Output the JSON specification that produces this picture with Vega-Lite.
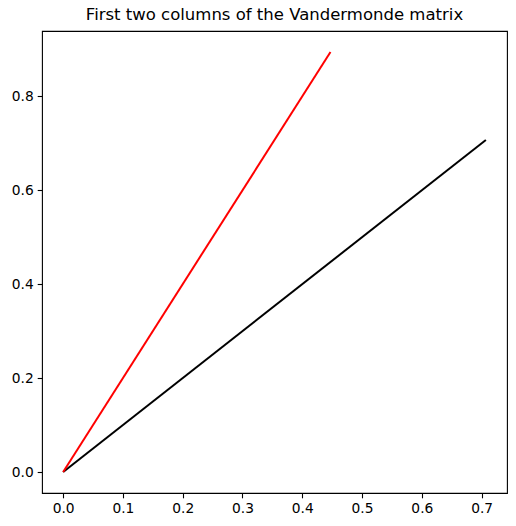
{
  "$schema": "https://vega.github.io/schema/vega-lite/v6.json",
  "autosize": "none",
  "width": 465,
  "height": 462,
  "padding": {"left": 42, "top": 31, "right": 9, "bottom": 33},
  "background": "white",
  "title": {
    "text": "First two columns of the Vandermonde matrix",
    "font": "DejaVu Sans",
    "fontSize": 16.5,
    "fontWeight": "normal",
    "color": "black",
    "offset": 8
  },
  "data": {
    "values": [
      {"series": "col1", "x": 0.0, "y": 0.0},
      {"series": "col1", "x": 0.7071, "y": 0.7071},
      {"series": "col2", "x": 0.0, "y": 0.0},
      {"series": "col2", "x": 0.4472, "y": 0.8944}
    ]
  },
  "mark": {"type": "line", "strokeWidth": 2},
  "encoding": {
    "x": {
      "field": "x",
      "type": "quantitative",
      "scale": {"domain": [-0.03536, 0.74246], "nice": false, "zero": false},
      "axis": {"values": [0, 0.1, 0.2, 0.3, 0.4, 0.5, 0.6, 0.7], "format": ".1f", "title": null}
    },
    "y": {
      "field": "y",
      "type": "quantitative",
      "scale": {"domain": [-0.04472, 0.93915], "nice": false, "zero": false},
      "axis": {"values": [0, 0.2, 0.4, 0.6, 0.8], "format": ".1f", "title": null}
    },
    "color": {
      "field": "series",
      "type": "nominal",
      "scale": {"domain": ["col1", "col2"], "range": ["black", "red"]},
      "legend": null
    }
  },
  "config": {
    "view": {"stroke": "black", "strokeWidth": 1.1},
    "axis": {
      "grid": false,
      "domain": false,
      "tickColor": "black",
      "tickSize": 4.8,
      "tickWidth": 1.1,
      "labelPadding": 4,
      "labelFont": "DejaVu Sans",
      "labelFontSize": 13.8,
      "labelColor": "black"
    }
  }
}
